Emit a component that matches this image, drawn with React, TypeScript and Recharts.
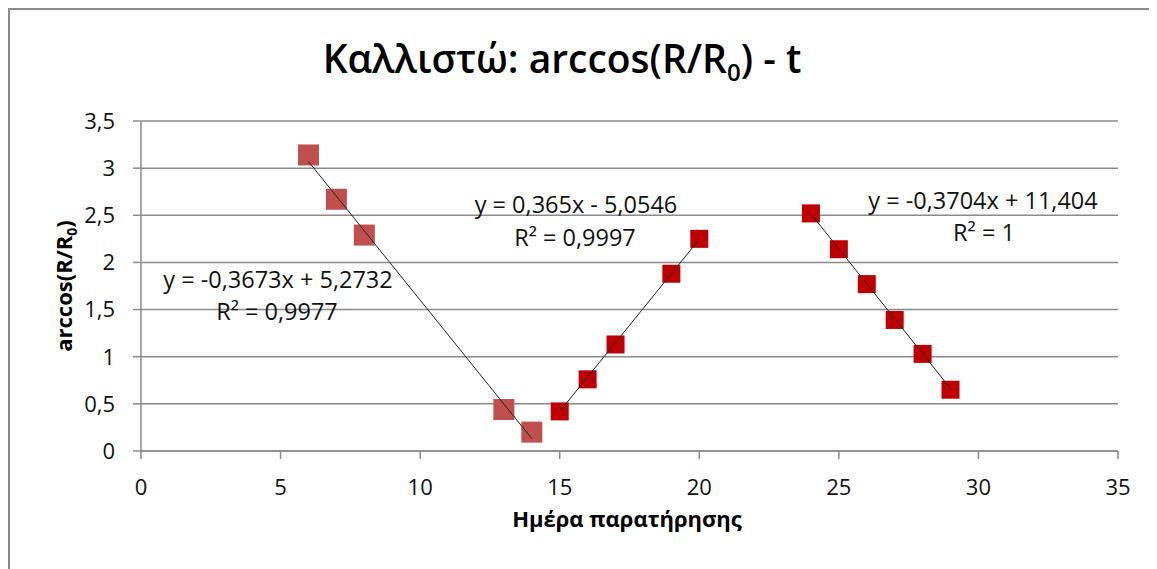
import { CartesianGrid, Scatter, ScatterChart, XAxis, YAxis } from "recharts";

// arccos(R/R0) per observation day, three groups (one per trendline)
const days1 = [6, 7, 8, 13, 14];
const vals1 = [3.14, 2.67, 2.29, 0.44, 0.2];
const days2 = [15, 16, 17, 19, 20];
const vals2 = [0.42, 0.76, 1.13, 1.88, 2.25];
const days3 = [24, 25, 26, 27, 28, 29];
const vals3 = [2.52, 2.14, 1.77, 1.39, 1.03, 0.65];

// trendline coefficients as printed on the chart
const slopes = [-0.3673, 0.365, -0.3704];
const intercepts = [5.2732, -5.0546, 11.404];
const equations = ["y = -0,3673x + 5,2732", "y = 0,365x - 5,0546", "y = -0,3704x + 11,404"];
const rSquared = ["R² = 0,9977", "R² = 0,9997", "R² = 1"];

const xTicks = [0, 5, 10, 15, 20, 25, 30, 35];
const yTicks = [0, 0.5, 1, 1.5, 2, 2.5, 3, 3.5];

const FONT = "'Open Sans', sans-serif";
const GRID = "#8a8a8a";

const toPoints = (xs: number[], ys: number[]) => xs.map((x, i) => ({ x, y: ys[i] }));
const trend = (xs: number[], k: number) => {
  const a = xs[0];
  const b = xs[xs.length - 1];
  return [
    { x: a, y: slopes[k] * a + intercepts[k] },
    { x: b, y: slopes[k] * b + intercepts[k] },
  ];
};

const square = (size: number, fill: string) => (props: any) => {
  const { cx, cy } = props;
  if (cx == null || cy == null) return <g />;
  return <rect x={cx - size / 2} y={cy - size / 2} width={size} height={size} fill={fill} />;
};

const fmt = (v: number) => String(v).replace(".", ",");

export default function App() {
  const W = 1147;
  const H = 559;
  const tickStyle = { fontSize: 22, fill: "#111", fontFamily: FONT };
  const labelStyle = { fontSize: 23.5, fill: "#111", fontFamily: FONT };

  return (
    <div
      style={{
        width: 1149,
        height: 561,
        borderTop: "2px solid #8c8c8c",
        borderLeft: "2px solid #8c8c8c",
        background: "#fff",
      }}
    >
      <ScatterChart width={W} height={H} margin={{ top: 111, right: 39, bottom: 88, left: 71 }}>
        <CartesianGrid horizontal vertical={false} stroke={GRID} strokeWidth={1.5} />
        <XAxis
          type="number"
          dataKey="x"
          domain={[0, 35]}
          ticks={xTicks}
          height={30}
          tick={tickStyle}
          tickSize={8}
          tickMargin={20}
          stroke={GRID}
          strokeWidth={1.5}
          allowDataOverflow
        />
        <YAxis
          type="number"
          dataKey="y"
          domain={[0, 3.5]}
          ticks={yTicks}
          width={60}
          tick={tickStyle}
          tickFormatter={fmt}
          tickSize={8}
          tickMargin={18}
          stroke={GRID}
          strokeWidth={1.5}
          allowDataOverflow
        />
        <Scatter data={toPoints(days1, vals1)} shape={square(21, "#C0504D")} isAnimationActive={false} />
        <Scatter data={toPoints(days2, vals2)} shape={square(18, "#C00000")} isAnimationActive={false} />
        <Scatter data={toPoints(days3, vals3)} shape={square(18, "#C00000")} isAnimationActive={false} />
        <Scatter data={trend(days1, 0)} line={{ stroke: "#222", strokeWidth: 1 }} shape={() => <g />} isAnimationActive={false} />
        <Scatter data={trend(days2, 1)} line={{ stroke: "#222", strokeWidth: 1 }} shape={() => <g />} isAnimationActive={false} />
        <Scatter data={trend(days3, 2)} line={{ stroke: "#222", strokeWidth: 1 }} shape={() => <g />} isAnimationActive={false} />

        <text x={552} y={63} textAnchor="middle" fontFamily={FONT} fontWeight={600} fontSize={39} fill="#000">
          Καλλιστώ: arccos(R/R
          <tspan fontSize={24} dy={8}>0</tspan>
          <tspan dy={-8}>) - t</tspan>
        </text>

        <text
          x={62}
          y={276}
          textAnchor="middle"
          transform="rotate(-90 62 276)"
          fontFamily={FONT}
          fontWeight="bold"
          fontSize={22}
          fill="#000"
        >
          arccos(R/R
          <tspan fontSize={14} dy={5}>0</tspan>
          <tspan dy={-5}>)</tspan>
        </text>
        <text x={617} y={517} textAnchor="middle" fontFamily={FONT} fontWeight="bold" fontSize={22} fill="#000">
          Ημέρα παρατήρησης
        </text>

        <text x={268} y={278} textAnchor="middle" style={labelStyle}>{equations[0]}</text>
        <text x={267} y={310} textAnchor="middle" style={labelStyle}>{rSquared[0]}</text>
        <text x={566} y={203} textAnchor="middle" style={labelStyle}>{equations[1]}</text>
        <text x={565} y={236} textAnchor="middle" style={labelStyle}>{rSquared[1]}</text>
        <text x={973} y={199} textAnchor="middle" style={labelStyle}>{equations[2]}</text>
        <text x={974} y={231} textAnchor="middle" style={labelStyle}>{rSquared[2]}</text>
      </ScatterChart>
    </div>
  );
}
